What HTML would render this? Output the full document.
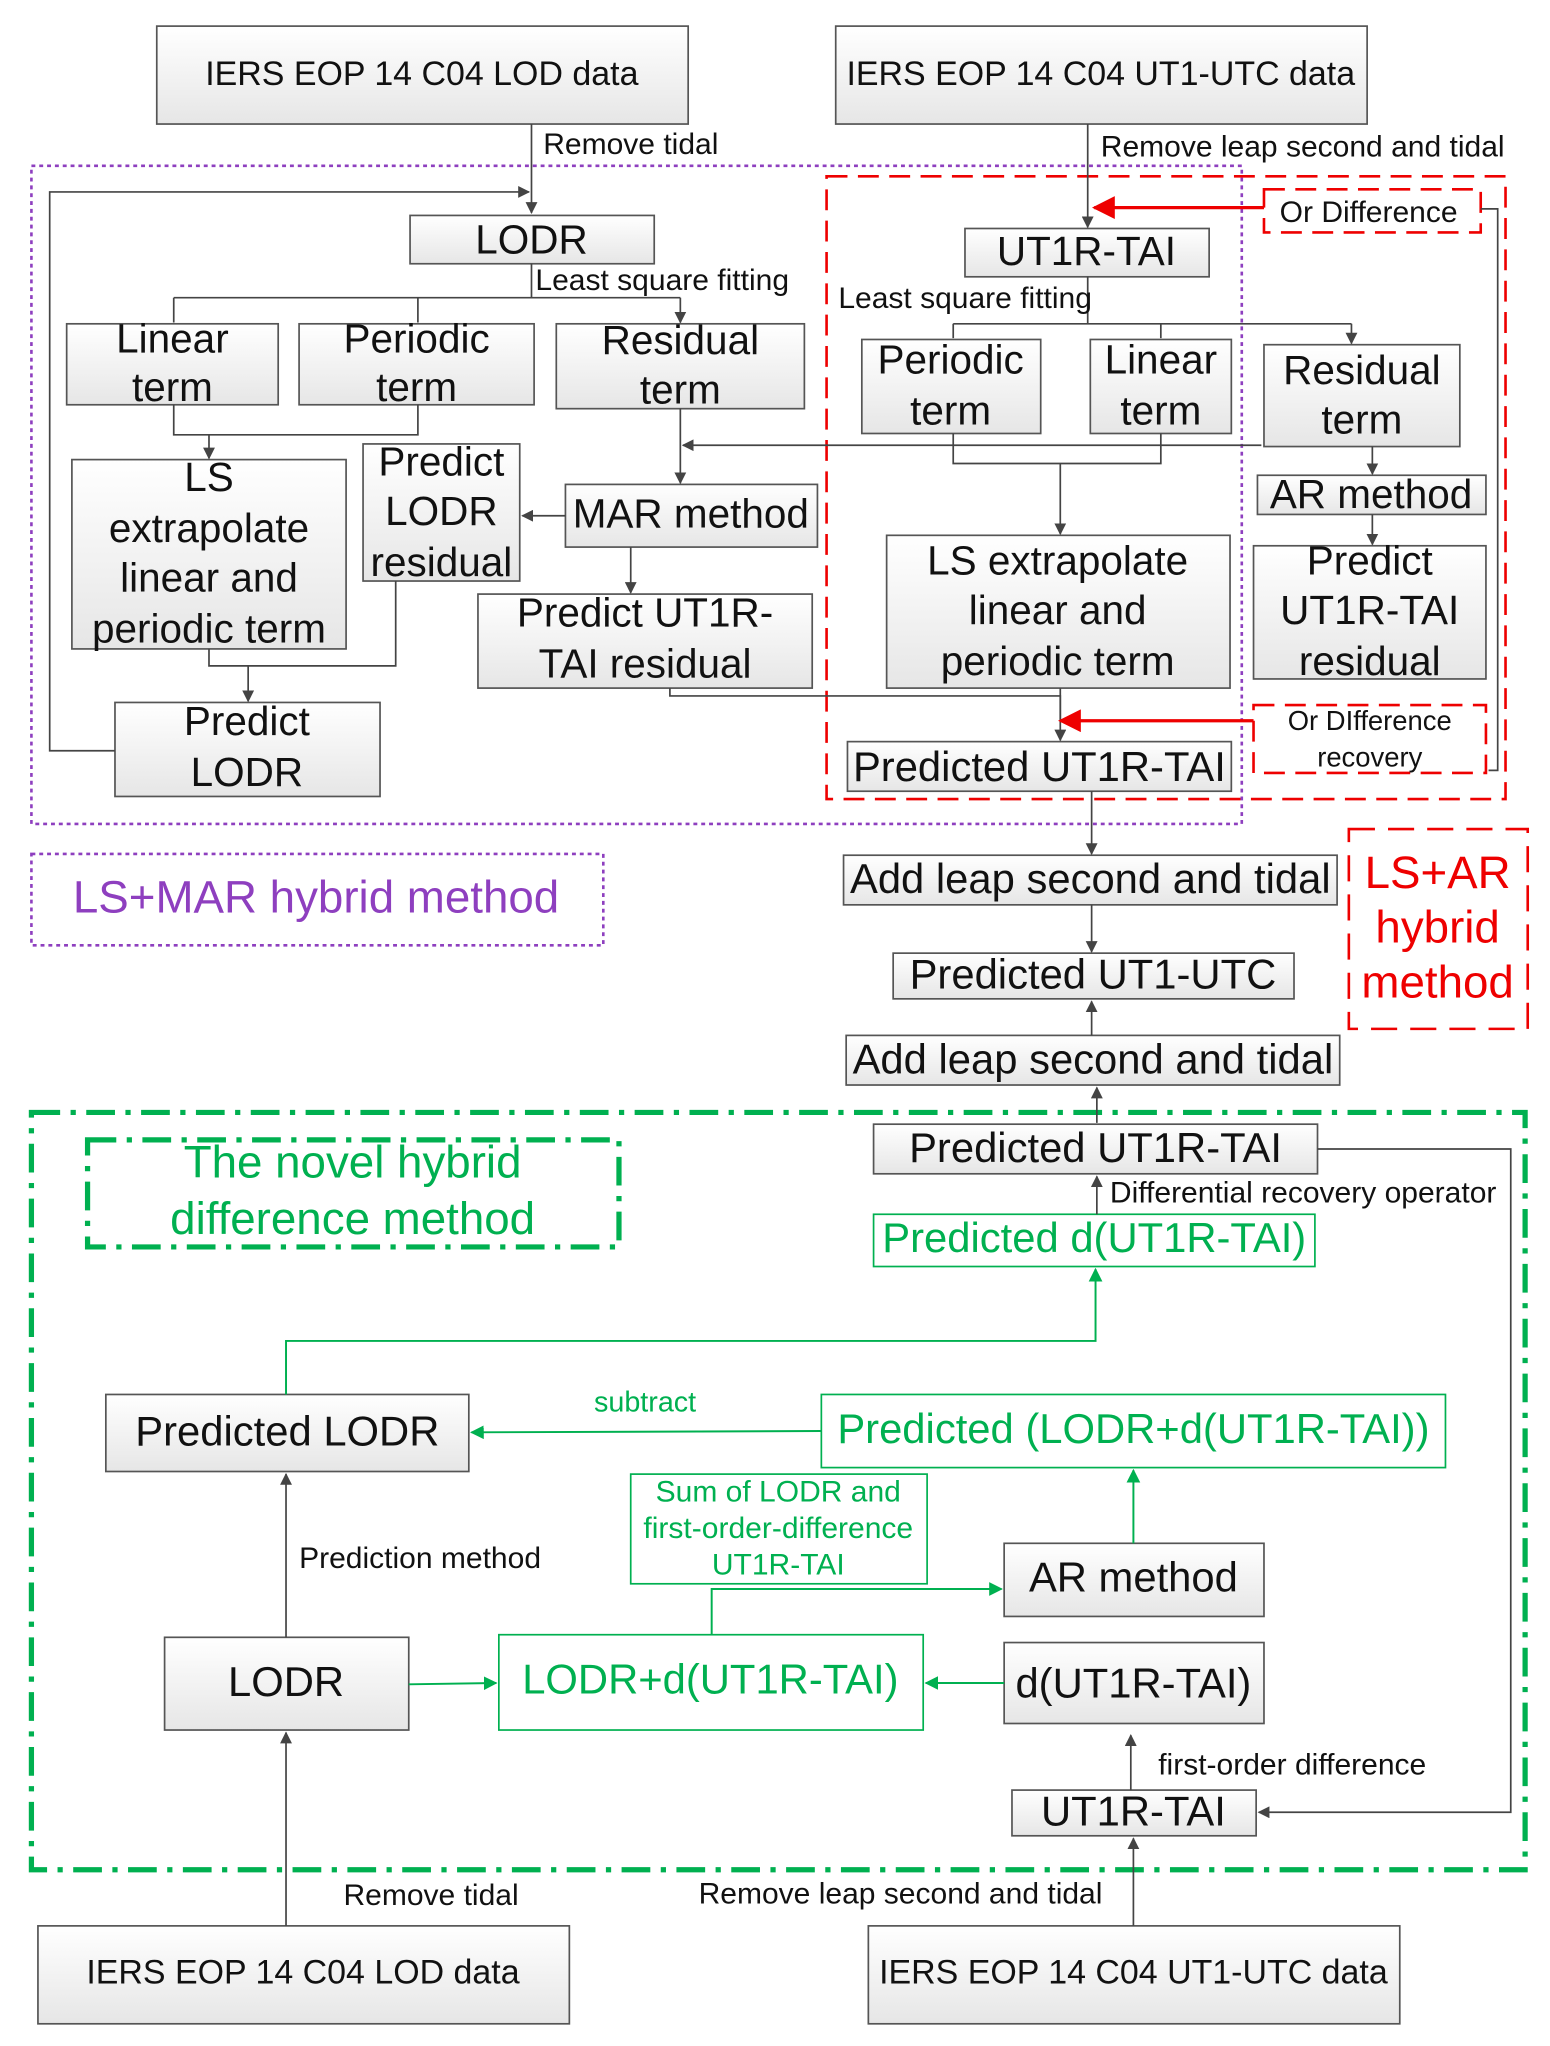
<!DOCTYPE html>
<html><head><meta charset="utf-8"><style>html,body{margin:0;padding:0;background:#fff}svg{display:block}</style></head>
<body>
<svg width="1550" height="2046" viewBox="0 0 1187 1567" xmlns="http://www.w3.org/2000/svg" font-family="Liberation Sans, sans-serif">
<defs>
<linearGradient id="g" x1="0" y1="0" x2="0" y2="1"><stop offset="0" stop-color="#ffffff"/><stop offset="1" stop-color="#e6e6e6"/></linearGradient>
<marker id="a" viewBox="0 0 10 10" refX="9" refY="5" markerWidth="7" markerHeight="7" orient="auto"><path d="M0,0L10,5L0,10z" fill="#444"/></marker>
<marker id="ar" viewBox="0 0 10 10" refX="9" refY="5" markerWidth="7" markerHeight="7" orient="auto"><path d="M0,0L10,5L0,10z" fill="#e00"/></marker>
<marker id="ag" viewBox="0 0 10 10" refX="9" refY="5" markerWidth="7" markerHeight="7" orient="auto"><path d="M0,0L10,5L0,10z" fill="#00b050"/></marker>
</defs>
<g stroke="#555" stroke-width="1.3" fill="url(#g)">
<rect x="120" y="20" width="407" height="75"/>
<rect x="640" y="20" width="407" height="75"/>
<rect x="314" y="165" width="187" height="37"/>
<rect x="51" y="248" width="162" height="62"/>
<rect x="229" y="248" width="180" height="62"/>
<rect x="426" y="248" width="190" height="65"/>
<rect x="55" y="352" width="210" height="145"/>
<rect x="278" y="340" width="120" height="105"/>
<rect x="433" y="371" width="193" height="48"/>
<rect x="366" y="455" width="256" height="72"/>
<rect x="88" y="538" width="203" height="72"/>
<rect x="739" y="175" width="187" height="37"/>
<rect x="660" y="260" width="137" height="72"/>
<rect x="835" y="260" width="108" height="72"/>
<rect x="968" y="264" width="150" height="78"/>
<rect x="963" y="364" width="175" height="30"/>
<rect x="960" y="418" width="178" height="102"/>
<rect x="679" y="410" width="263" height="117"/>
<rect x="649" y="568" width="294" height="38"/>
<rect x="646" y="655" width="378" height="38"/>
<rect x="684" y="730" width="307" height="35"/>
<rect x="648" y="793" width="378" height="38"/>
<rect x="669" y="861" width="340" height="38"/>
<rect x="81" y="1068" width="278" height="59"/>
<rect x="769" y="1182" width="199" height="56"/>
<rect x="126" y="1254" width="187" height="71"/>
<rect x="769" y="1258" width="199" height="62"/>
<rect x="775" y="1371" width="187" height="35"/>
<rect x="29" y="1475" width="407" height="75"/>
<rect x="665" y="1475" width="407" height="75"/>
</g>
<g stroke="#00b050" stroke-width="1.3" fill="#fff">
<rect x="669" y="930" width="338" height="40"/>
<rect x="629" y="1068" width="478" height="56"/>
<rect x="483" y="1129" width="227" height="84"/>
<rect x="382" y="1252" width="325" height="73"/>
</g>
<g fill="none">
<rect x="24" y="127" width="927" height="504" stroke="#8e3fbf" stroke-width="2" stroke-dasharray="3,3"/>
<rect x="24" y="654" width="438" height="70" stroke="#8e3fbf" stroke-width="2" stroke-dasharray="3,3"/>
<rect x="633" y="135" width="520" height="477" stroke="#e00" stroke-width="2" stroke-dasharray="16,8"/>
<rect x="968" y="145" width="166" height="33" stroke="#e00" stroke-width="2" stroke-dasharray="16,8"/>
<rect x="960" y="540" width="178" height="52" stroke="#e00" stroke-width="2" stroke-dasharray="16,8"/>
<rect x="1033" y="635" width="137" height="153" stroke="#e00" stroke-width="2" stroke-dasharray="20,10"/>
<rect x="24" y="852" width="1144" height="580" stroke="#00b050" stroke-width="4" stroke-dasharray="22,8,4,8"/>
<rect x="67" y="873" width="407" height="82" stroke="#00b050" stroke-width="4" stroke-dasharray="22,8,4,8"/>
</g>
<g stroke="#444" stroke-width="1.3" fill="none">
<path d="M407,95V163" marker-end="url(#a)"/>
<path d="M88,575H38V147H405" marker-end="url(#a)"/>
<path d="M407,202V228M133,228H521"/>
<path d="M133,228V247M320,228V247M521,228V247" marker-end="url(#a)"/>
<path d="M133,310V333H320V310"/>
<path d="M160,333V351" marker-end="url(#a)"/>
<path d="M521,313V370" marker-end="url(#a)"/>
<path d="M966,341H523" marker-end="url(#a)"/>
<path d="M433,395H400" marker-end="url(#a)"/>
<path d="M483,419V454" marker-end="url(#a)"/>
<path d="M303,445V510H160V497"/>
<path d="M190,510V537" marker-end="url(#a)"/>
<path d="M513,527V533H812V567" marker-end="url(#a)"/>
<path d="M833,95V174" marker-end="url(#a)"/>
<path d="M1134,160H1147V590H1140"/>
<path d="M833,212V248M730,248H1035"/>
<path d="M730,248V259M889,248V259M1035,248V263" marker-end="url(#a)"/>
<path d="M1051,342V363" marker-end="url(#a)"/>
<path d="M1051,394V417" marker-end="url(#a)"/>
<path d="M730,332V355H889V332M812,355V409" marker-end="url(#a)"/>
<path d="M812,527V552"/>
<path d="M836,606V654" marker-end="url(#a)"/>
<path d="M836,693V729" marker-end="url(#a)"/>
<path d="M836,793V767" marker-end="url(#a)"/>
<path d="M840,860V833" marker-end="url(#a)"/>
<path d="M1009,880H1157V1388H964" marker-end="url(#a)"/>
<path d="M840,930V901" marker-end="url(#a)"/>
<path d="M219,1254V1129" marker-end="url(#a)"/>
<path d="M866,1371V1329" marker-end="url(#a)"/>
<path d="M219,1475V1327" marker-end="url(#a)"/>
<path d="M868,1475V1408" marker-end="url(#a)"/>
</g>
<g stroke="#e00" stroke-width="2.5" fill="none">
<path d="M968,159H838" marker-end="url(#ar)"/>
<path d="M960,552H812" marker-end="url(#ar)"/>
</g>
<g stroke="#00b050" stroke-width="1.5" fill="none">
<path d="M219,1068V1027H839V972" marker-end="url(#ag)"/>
<path d="M629,1096L361,1097" marker-end="url(#ag)"/>
<path d="M868,1182V1126" marker-end="url(#ag)"/>
<path d="M545,1252V1217H767" marker-end="url(#ag)"/>
<path d="M313,1290L380,1289" marker-end="url(#ag)"/>
<path d="M769,1289H709" marker-end="url(#ag)"/>
</g>
<g fill="#111" text-anchor="middle" font-size="26">
<text x="323" y="65">IERS EOP 14 C04 LOD data</text>
<text x="843" y="65">IERS EOP 14 C04 UT1-UTC data</text>
<text x="232" y="1519">IERS EOP 14 C04 LOD data</text>
<text x="868" y="1519">IERS EOP 14 C04 UT1-UTC data</text>
<g font-size="31">
<text x="407" y="194">LODR</text>
<text x="132" y="270">Linear</text><text x="132" y="307">term</text>
<text x="319" y="270">Periodic</text><text x="319" y="307">term</text>
<text x="521" y="271">Residual</text><text x="521" y="309">term</text>
<text x="160" y="376">LS</text><text x="160" y="415">extrapolate</text><text x="160" y="453">linear and</text><text x="160" y="492">periodic term</text>
<text x="338" y="364">Predict</text><text x="338" y="402">LODR</text><text x="338" y="441">residual</text>
<text x="529" y="404">MAR method</text>
<text x="494" y="480">Predict UT1R-</text><text x="494" y="519">TAI residual</text>
<text x="189" y="563">Predict</text><text x="189" y="602">LODR</text>
<text x="832" y="203">UT1R-TAI</text>
<text x="728" y="286">Periodic</text><text x="728" y="325">term</text>
<text x="889" y="286">Linear</text><text x="889" y="325">term</text>
<text x="1043" y="294">Residual</text><text x="1043" y="332">term</text>
<text x="1050" y="389">AR method</text>
<text x="1049" y="440">Predict</text><text x="1049" y="478">UT1R-TAI</text><text x="1049" y="517">residual</text>
<text x="810" y="440">LS extrapolate</text><text x="810" y="478">linear and</text><text x="810" y="517">periodic term</text>
</g>
<g font-size="32">
<text x="796" y="598">Predicted UT1R-TAI</text>
<text x="835" y="684">Add leap second and tidal</text>
<text x="837" y="757">Predicted UT1-UTC</text>
<text x="837" y="822">Add leap second and tidal</text>
<text x="839" y="890">Predicted UT1R-TAI</text>
<text x="220" y="1107">Predicted LODR</text>
<text x="868" y="1219">AR method</text>
<text x="219" y="1299">LODR</text>
<text x="868" y="1300">d(UT1R-TAI)</text>
<text x="868" y="1398">UT1R-TAI</text>
</g>
</g>
<g fill="#111" font-size="23">
<text x="416" y="118">Remove tidal</text>
<text x="410" y="222">Least square fitting</text>
<text x="843" y="120">Remove leap second and tidal</text>
<text x="642" y="236">Least square fitting</text>
<text x="980" y="170">Or Difference</text>
<text x="1049" y="559" text-anchor="middle" font-size="21">Or DIfference</text>
<text x="1049" y="587" text-anchor="middle" font-size="21">recovery</text>
<text x="850" y="921">Differential recovery operator</text>
<text x="229" y="1201">Prediction method</text>
<text x="887" y="1359">first-order difference</text>
<text x="263" y="1459">Remove tidal</text>
<text x="535" y="1458">Remove leap second and tidal</text>
</g>
<g fill="#00b050" text-anchor="middle">
<text x="838" y="959" font-size="32">Predicted d(UT1R-TAI)</text>
<text x="868" y="1105" font-size="32">Predicted (LODR+d(UT1R-TAI))</text>
<text x="544" y="1297" font-size="32">LODR+d(UT1R-TAI)</text>
<text x="494" y="1081" font-size="22">subtract</text>
<text x="596" y="1150" font-size="23">Sum of LODR and</text>
<text x="596" y="1178" font-size="23">first-order-difference</text>
<text x="596" y="1206" font-size="23">UT1R-TAI</text>
<text x="270" y="902" font-size="35">The novel hybrid</text>
<text x="270" y="945" font-size="35">difference method</text>
</g>
<text x="242" y="699" fill="#8e3fbf" font-size="35" text-anchor="middle">LS+MAR hybrid method</text>
<g fill="#e00" font-size="35" text-anchor="middle">
<text x="1101" y="680">LS+AR</text><text x="1101" y="722">hybrid</text><text x="1101" y="764">method</text>
</g>
</svg>
</body></html>
